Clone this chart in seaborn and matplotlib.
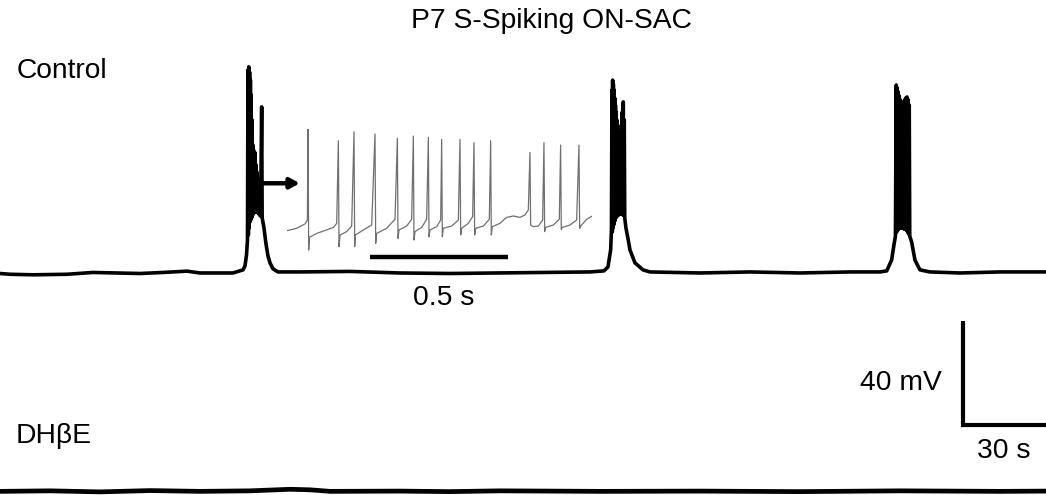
import numpy as np
import pandas as pd
import matplotlib
matplotlib.use("Agg")
import matplotlib.pyplot as plt
import seaborn as sns

# ---------------- data (time in s, membrane potential in mV relative to rest) ----------------
# Control trace, split in segments
rest1_t = [0.0, 3.6, 11.8, 23.9, 33.2, 41.8, 50.0, 58.2, 66.8, 71.4, 83.2, 86.8]
rest1_v = [-0.6, -0.9, -1.1, -0.9, -0.2, -0.4, -0.6, -0.2, 0.3, -0.4, -0.4, 0.8]

burst1_t = [87.50, 88.04, 88.39,
            88.57, 88.71, 88.86, 89.00, 89.14, 89.29, 89.43, 89.57, 89.71, 89.86,
            90.00, 90.14, 90.29, 90.43, 90.57, 90.71, 90.86, 91.00, 91.14, 91.29,
            91.43, 91.57, 91.71, 91.86, 92.00, 92.14, 92.29, 92.43, 92.57, 92.71,
            92.86, 93.07, 93.46, 93.64,
            94.29, 95.00, 95.71, 96.43, 97.50, 99.29]
burst1_v = [2.3, 6.5, 12.3,
            77.7, 14.2, 78.9, 16.9, 76.9, 19.2, 73.9, 20.0, 68.1, 20.8,
            58.5, 21.5, 48.9, 22.3, 46.9, 22.7, 43.9, 23.1, 45.8, 23.1,
            41.2, 23.1, 38.5, 23.1, 36.2, 22.7, 34.6, 22.3, 33.5, 21.9,
            31.5, 21.5, 63.5, 20.8,
            16.9, 10.8, 6.2, 3.5, 1.2, 0.0]

rest2_t = [107.1, 125.0, 142.9, 160.7, 178.6, 196.4, 210.7, 215.7]
rest2_v = [0.0, 0.2, -0.4, -0.6, -0.4, -0.2, 0.0, 0.4]

burst2_t = [217.14, 218.11, 218.39,
            218.57, 218.70, 218.82, 218.95, 219.07, 219.20, 219.32, 219.45,
            219.57, 219.70, 219.82, 219.95, 220.07, 220.20, 220.32, 220.45,
            220.57, 220.70, 220.82, 220.95, 221.07, 221.20, 221.32, 221.45,
            221.61, 221.75, 221.93, 222.07, 222.25, 222.43, 222.61, 222.79,
            222.96, 223.14,
            223.57, 224.39, 225.00, 226.79, 229.64, 232.14]
burst2_v = [1.9, 8.5, 16.2,
            70.0, 15.4, 73.8, 16.9, 72.3, 18.1, 70.0, 19.2,
            66.9, 20.0, 64.2, 20.8, 61.5, 21.2, 58.5, 21.5,
            54.6, 21.9, 50.8, 21.9, 46.9, 22.3, 43.8, 22.3,
            50.8, 22.3, 56.5, 22.3, 61.5, 21.9, 65.4, 21.9,
            58.5, 20.8,
            16.9, 12.3, 8.5, 3.5, 0.8, 0.0]

rest3_t = [250.0, 267.9, 285.7, 303.6, 314.3, 316.7]
rest3_v = [-0.4, 0.0, -0.4, 0.0, 0.0, 0.4]

burst3_t = [318.46, 319.29, 319.82,
            320.11, 320.29, 320.46, 320.64, 320.82, 321.00, 321.18, 321.36,
            321.54, 321.71, 321.89, 322.07, 322.32, 322.50, 322.71, 322.89,
            323.11, 323.29, 323.50, 323.68, 323.93, 324.11, 324.36, 324.54,
            324.75, 324.93,
            325.61, 326.79, 328.57, 332.14]
burst3_v = [4.6, 10.4, 13.8,
            71.9, 15.4, 70.8, 16.2, 69.2, 16.5, 67.7, 16.9,
            66.2, 16.9, 65.0, 16.9, 64.2, 16.9, 65.4, 16.5,
            66.2, 16.5, 66.9, 16.2, 67.3, 15.4, 66.2, 14.6,
            64.2, 13.8,
            11.5, 4.6, 0.8, 0.0]

rest4_t = [342.9, 357.1, 373.6]
rest4_v = [-0.4, 0.0, 0.0]

# DHbE trace (relative to its own rest)
dhbe_t = [0.0, 17.9, 35.7, 53.6, 71.4, 89.3, 96.4, 103.6, 110.7, 117.9,
          142.9, 160.7, 178.6, 214.3, 250.0, 285.7, 321.4, 357.1, 373.6]
dhbe_v = [0.0, 0.2, -0.2, 0.3, 0.0, 0.2, 0.5, 0.8, 0.6, 0.0,
          0.1, -0.1, 0.2, 0.0, 0.1, -0.1, 0.2, 0.0, 0.1]
dhbe_offset = -84.4  # vertical display offset of the second trace (mV)

# Inset: expanded view of first burst (time in ms, mV)
inset_t = [0.0, 36.2, 66.4, 74.9, 77.3, 79.7, 82.1, 108.7, 144.9, 169.1,
           181.2, 187.2, 189.6, 193.2, 217.4, 235.5, 244.0, 246.4, 248.8, 277.8,
           308.0, 320.0, 322.5, 326.1, 362.3, 392.5, 401.0, 403.4, 407.0, 434.8,
           452.9, 458.9, 461.3, 465.0, 489.1, 507.2, 513.3, 515.7, 519.3, 543.5,
           558.0, 561.6, 564.0, 567.6, 597.8, 622.0, 628.0, 630.4, 634.0, 658.2,
           673.9, 678.7, 681.1, 684.8, 712.5, 734.3, 739.1, 741.5, 745.1, 772.9,
           797.1, 821.2, 845.4, 863.5, 875.6, 881.6, 884.0, 893.7, 911.8, 927.5,
           932.3, 934.8, 938.4, 966.2, 987.9, 992.7, 995.1, 998.7, 1026.5, 1050.7,
           1059.2, 1061.6, 1065.2, 1087.0, 1107.5]
inset_v = [-47.8, -46.2, -43.3, -40.7, 19.8, -60.7, -52.2, -49.6, -47.3, -45.6,
           -42.9, 12.2, -58.4, -50.7, -48.4, -44.7, 18.2, -58.4, -50.7, -47.3,
           -44.0, 16.7, -56.2, -49.6, -46.2, -40.2, 13.8, -52.9, -47.3, -44.7,
           -40.2, 15.3, -54.0, -48.4, -45.6, -40.2, 14.4, -51.8, -47.3, -45.1,
           -40.7, 13.1, -51.8, -46.2, -44.7, -40.7, 13.1, -50.7, -46.2, -42.9,
           -38.4, 10.9, -50.7, -46.2, -44.7, -40.2, 12.2, -50.7, -45.1, -42.9,
           -38.9, -38.0, -38.9, -37.3, -34.0, 4.4, -44.0, -45.1, -44.7, -40.7,
           10.9, -48.4, -45.6, -44.0, -40.2, 9.3, -46.9, -45.6, -44.0, -40.7,
           9.3, -46.2, -44.7, -40.2, -38.0]

# Scale bars
inset_bar_ms = 500
inset_bar_start_ms = 301.8
inset_bar_level = -65.3
bar_mv = 40
bar_s = 30
bar_x0 = 344.0
bar_y0 = -58.9

# Text
title = "P7 S-Spiking ON-SAC"
labels = ["Control", "DH\u03b2E"]

# ---------------- plotting ----------------
sns.set_style("white")
plt.rcParams["font.family"] = ["Liberation Sans", "DejaVu Sans"]

W, H = 1046, 495
fig = plt.figure(figsize=(W / 100, H / 100), dpi=100)
ax = fig.add_axes([0, 0, 1, 1])
ax.set_xlim(0, 373.6)
ax.set_ylim(-85.8, 104.6)
ax.axis("off")

ctrl = pd.DataFrame({
    "t": rest1_t + burst1_t + rest2_t + burst2_t + rest3_t + burst3_t + rest4_t,
    "v": rest1_v + burst1_v + rest2_v + burst2_v + rest3_v + burst3_v + rest4_v,
})
sns.lineplot(data=ctrl, x="t", y="v", sort=False, estimator=None, ax=ax,
             color="black", lw=2.6)

dhbe = pd.DataFrame({"t": dhbe_t, "v": np.array(dhbe_v) + dhbe_offset})
sns.lineplot(data=dhbe, x="t", y="v", sort=False, estimator=None, ax=ax,
             color="black", lw=3.4)

# arrow pointing to inset
ax.annotate("", xy=(107.1, 34.1), xytext=(93.6, 34.1),
            arrowprops=dict(arrowstyle="-|>,head_length=0.55,head_width=0.3",
                            lw=3.2, color="black", shrinkA=0, shrinkB=0))

# main scale bar
ax.plot([bar_x0, bar_x0, bar_x0 + bar_s], [bar_y0 + bar_mv, bar_y0, bar_y0],
        color="black", lw=3.0, solid_joinstyle="miter", solid_capstyle="butt")

# inset
ax_in = fig.add_axes([286.7 / W, 1 - 260 / H, 305.6 / W, 140 / H])
ax_in.patch.set_alpha(0)
ax_in.set_xlim(0, 1107.5)
ax_in.set_ylim(-67.33, 26)
ax_in.axis("off")
ins = pd.DataFrame({"t": inset_t, "v": inset_v})
sns.lineplot(data=ins, x="t", y="v", sort=False, estimator=None, ax=ax_in,
             color="#707070", lw=0.9)
ax_in.plot([inset_bar_start_ms, inset_bar_start_ms + inset_bar_ms],
           [inset_bar_level, inset_bar_level], color="black", lw=3.2,
           solid_capstyle="butt")

fs = 20.3
tc = "black"
fig.text(551.2 / W, 1 - 28.3 / H, title, ha="center", va="baseline", fontsize=fs, color=tc)
fig.text(16.5 / W, 1 - 78.3 / H, labels[0], ha="left", va="baseline", fontsize=fs, color=tc)
fig.text(16.0 / W, 1 - 443.3 / H, labels[1], ha="left", va="baseline", fontsize=fs, color=tc)
fig.text(444 / W, 1 - 305 / H, "0.5 s", ha="center", va="baseline", fontsize=fs, color=tc)
fig.text(900.8 / W, 1 - 390 / H, "40 mV", ha="center", va="baseline", fontsize=fs, color=tc)
fig.text(1003.5 / W, 1 - 458.3 / H, "30 s", ha="center", va="baseline", fontsize=fs, color=tc)

fig.savefig("out.png", dpi=100)
